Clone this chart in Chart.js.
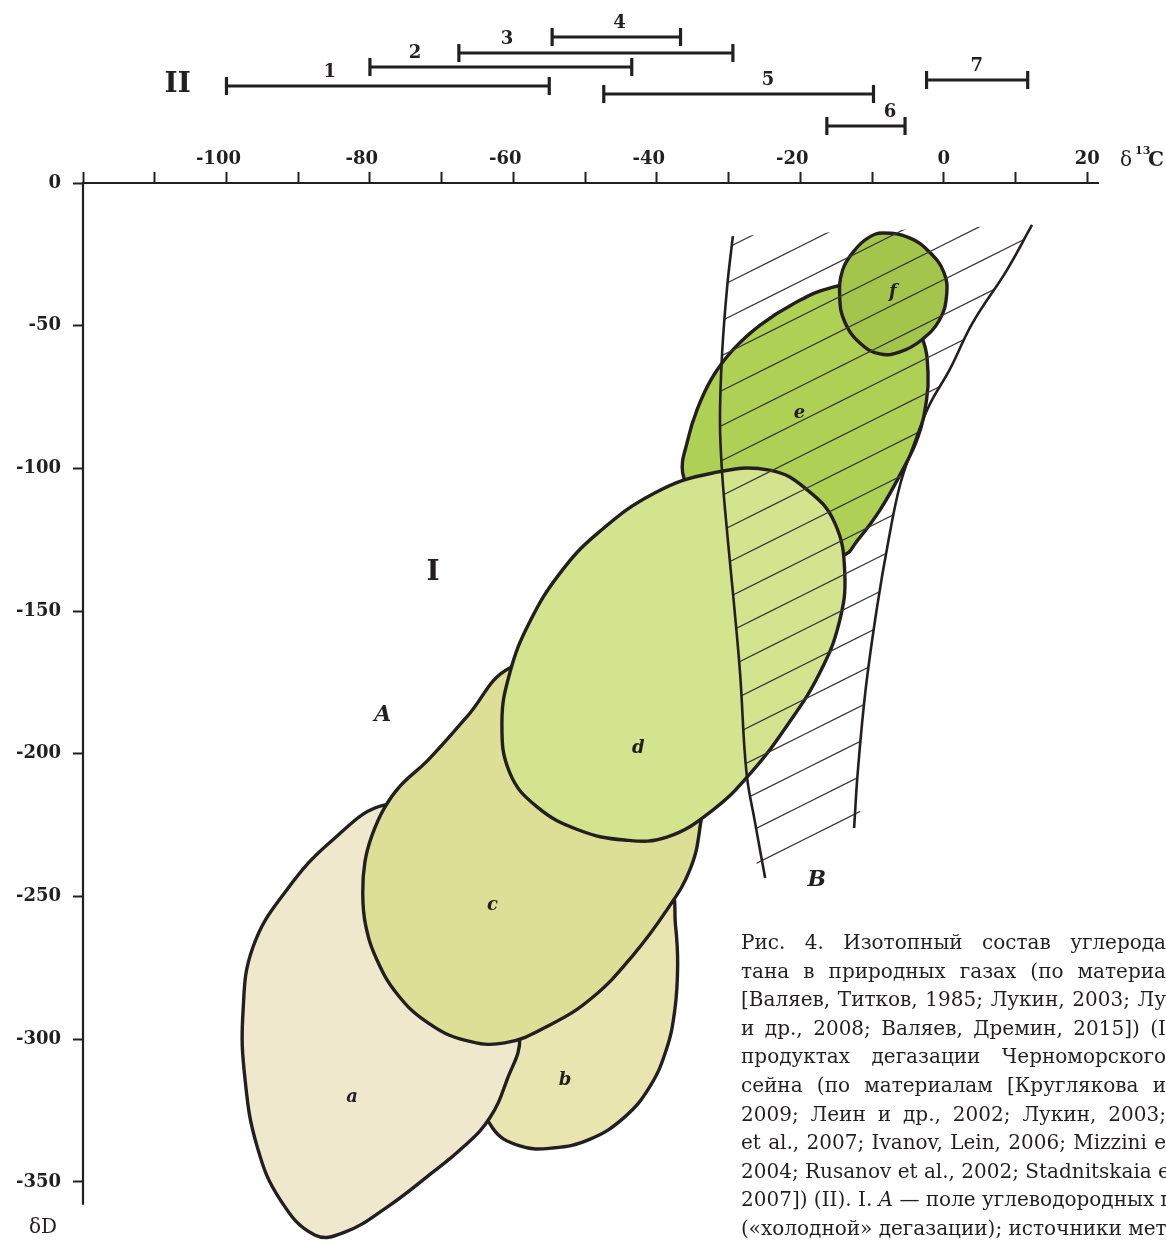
<!DOCTYPE html>
<html lang="ru">
<head>
<meta charset="utf-8">
<title>Изотопный состав углерода и водорода метана</title>
<script src="https://cdn.jsdelivr.net/npm/chart.js@4/dist/chart.umd.min.js"></script>
<style>
  html, body { margin:0; padding:0; background:#ffffff; overflow:hidden; }
  #stage { position:relative; width:1166px; height:1245px; overflow:hidden; background:#ffffff; }
  #stage canvas { position:absolute; left:0; top:0; }
  #caption { position:absolute; left:741px; top:928px; width:425px;
             font-family:"DejaVu Serif","Liberation Serif",serif; font-size:20px;
             line-height:28.6px; color:#231f20; }
  #caption div { white-space:nowrap; text-align:justify; text-align-last:justify; }
</style>
</head>
<body>
<div id="stage">
  <canvas id="fieldsChart" width="1166" height="1245"></canvas>
  <canvas id="rangesChart" width="1166" height="150"></canvas>
  <div id="caption">
    <div>Рис. 4. Изотопный состав углерода</div>
    <div>тана в природных газах (по материа</div>
    <div>[Валяев, Титков, 1985; Лукин, 2003; Лу</div>
    <div>и др., 2008; Валяев, Дремин, 2015]) (I</div>
    <div>продуктах дегазации Черноморского</div>
    <div>сейна (по материалам [Круглякова и</div>
    <div>2009; Леин и др., 2002; Лукин, 2003;</div>
    <div>et al., 2007; Ivanov, Lein, 2006; Mizzini e</div>
    <div>2004; Rusanov et al., 2002; Stadnitskaia e</div>
    <div>2007]) (II). I. <i>A</i> — поле углеводородных г</div>
    <div>(«холодной» дегазации); источники мет</div>
  </div>
</div>
<script>
// ================= DATA =================
// axis ticks
const xTickValues = [-120,-110,-100,-90,-80,-70,-60,-50,-40,-30,-20,-10,0,10,20];
const xTickLabels = [-100,-80,-60,-40,-20,0,20];
const yTickValues = [0,-50,-100,-150,-200,-250,-300,-350];

// Part II: δ13C ranges of methane sources 1–7
const rangeNames = ['1','2','3','4','5','6','7'];
const rangeFrom  = [-100, -80, -67.6, -54.6, -47.4, -16.3, -2.4];
const rangeTo    = [-55, -43.5, -29.4, -36.7, -9.8, -5.4, 11.7];

// Part I: outlines of fields, points [δ13C, δD]
const fieldA = [[-77.9,-217.9],[-85.2,-230.2],[-91.6,-247.7],[-96.3,-267.7],[-97.7,-290.8],[-97.4,-314.3],
  [-95.7,-337.8],[-92.5,-356.3],[-87.7,-368.6],[-83.5,-367.6],[-77.6,-358.8],[-72.1,-348.3],[-67.0,-337.8],
  [-63.3,-327.6],[-60.9,-314.3],[-59.1,-299.2],[-61.2,-272.3],[-67.5,-240.7],[-73.0,-223.2]];
const fieldB = [[-38.2,-247.7],[-37.4,-260.0],[-37.1,-274.0],[-37.5,-289.8],[-38.7,-303.8],[-41.0,-316.7],
  [-44.5,-327.3],[-49.3,-335.0],[-54.5,-338.1],[-59.1,-337.4],[-62.9,-331.1],[-64.4,-317.8],[-57.7,-286.3],
  [-48.6,-263.5],[-41.7,-251.2]];
const fieldC = [[-60.5,-169.9],[-66.5,-187.1],[-71.9,-202.2],[-75.8,-211.3],[-78.0,-219.0],[-79.7,-228.5],
  [-80.7,-237.9],[-81.0,-248.8],[-80.6,-260.0],[-79.0,-272.3],[-76.1,-284.5],[-71.9,-294.3],[-66.8,-300.3],
  [-61.2,-301.3],[-54.9,-295.0],[-48.9,-285.2],[-43.3,-270.5],[-38.6,-254.7],[-35.4,-240.7],[-34.0,-226.0],
  [-33.9,-212.7],[-37.9,-195.2],[-46.3,-179.4],[-54.2,-171.3]];
const fieldD = [[-24.3,-100.6],[-19.0,-107.6],[-15.2,-119.1],[-13.8,-136.7],[-14.6,-154.2],[-17.3,-171.7],
  [-21.6,-189.2],[-26.9,-206.7],[-32.2,-219.7],[-38.6,-229.2],[-44.5,-230.2],[-50.9,-226.7],[-56.7,-218.6],
  [-60.5,-206.7],[-61.6,-189.2],[-60.5,-171.7],[-57.8,-154.2],[-53.5,-136.7],[-48.2,-122.6],[-40.3,-108.6],
  [-32.2,-101.6]];
const fieldE = [[-36.4,-101.6],[-35.7,-90.1],[-34.4,-79.5],[-32.3,-68.3],[-29.4,-58.5],[-25.6,-49.8],
  [-21.0,-42.4],[-15.9,-36.8],[-10.3,-35.7],[-5.4,-42.7],[-2.9,-55.0],[-2.2,-66.2],[-2.4,-76.0],[-3.6,-89.0],
  [-5.9,-101.3],[-8.9,-114.6],[-12.0,-125.1],[-14.1,-130.3],[-21.5,-126.8],[-29.8,-114.6],[-34.7,-107.6]];
const fieldF = [[-8.5,-17.5],[-4.7,-19.3],[-2.0,-24.2],[0.0,-31.2],[0.4,-39.2],[-0.6,-48.0],[-3.1,-55.0],
  [-6.1,-59.2],[-8.9,-59.9],[-11.7,-56.1],[-13.8,-48.7],[-14.5,-40.3],[-14.1,-30.5],[-12.4,-23.5],[-10.6,-19.3]];
// field B (hatched zone) boundaries
const zoneBLeft  = [[-29.4,-18.6],[-30.2,-36.4],[-30.9,-59.6],[-31.2,-83.0],[-30.9,-101.6],[-30.1,-125.1],
  [-29.3,-146.1],[-28.4,-171.7],[-27.5,-206.7],[-26.3,-224.2],[-24.9,-243.5]];
const zoneBRight = [[12.3,-14.7],[8.8,-30.5],[4.0,-49.1],[0.8,-65.5],[-2.0,-77.8],[-4.3,-92.5],[-6.1,-105.8],
  [-7.7,-125.1],[-9.3,-148.6],[-10.9,-177.6],[-12.0,-206.7],[-12.5,-226.0]];

// ================= LAYOUT / STYLE =================
const FONT = "'DejaVu Serif','Liberation Serif',serif";
const INK = '#231f20';
const L = {
  xMin: -120, xMax: 21.5, yMin: -372.1, yMax: 0, yAxisEnd: -358,
  plotLeft: 83, plotTop: 183, padRight: 68,
  rangeRowPx: [86, 67, 53, 37, 94, 126, 80],          // vertical placement of bars in part II
  rangeLabelAt: [-85.6, -73.7, -60.9, -45.2, -24.5, -7.5, 4.6],
  partIIMark: [-106.8, 85],
  fieldLabelAt: { a:[-82.5,-320.3], b:[-52.8,-314.3], c:[-62.9,-253.0], d:[-42.6,-198.0], e:[-20.1,-80.6], f:[-7.1,-38.2] },
  markAt: { I:[-71.2,-136.7], A:[-78.2,-186.4], B:[-17.7,-244.2] }
};
const fieldStyles = [ // bottom → top
  { name:'b', data: fieldB, color:'#e9e5b0' },
  { name:'a', data: fieldA, color:'#f0e8cc' },
  { name:'c', data: fieldC, color:'#dedf96' },
  { name:'e', data: fieldE, color:'#add055' },
  { name:'d', data: fieldD, color:'#d3e38e' },
  { name:'f', data: fieldF, color:'#a3c54c' }
];

Chart.defaults.font.family = FONT;
Chart.defaults.color = INK;
Chart.defaults.animation = false;

const pts = arr => arr.map(([x, y]) => ({ x, y }));

function hatchPattern() {
  const W = 70, H = 35, phase = 16.5;
  const c = document.createElement('canvas'); c.width = W; c.height = H;
  const g = c.getContext('2d');
  g.strokeStyle = '#3a3a3a'; g.lineWidth = 1.2;
  for (let k = -2; k <= 3; k++) {
    const y0 = phase + k * H;
    g.beginPath(); g.moveTo(-10, y0 + 5); g.lineTo(W + 10, y0 - (W + 10) / 2); g.stroke();
  }
  return g.createPattern(c, 'repeat');
}

// closes outlines smoothly (as a loop) for datasets flagged "closed"
const closedLoops = {
  id: 'closedLoops',
  afterDatasetUpdate(chart, args) {
    const ds = chart.data.datasets[args.index];
    if (ds.closed && args.meta.dataset) { args.meta.dataset._loop = true; args.meta.dataset._fullLoop = true; }
  }
};

const annotations = {
  id: 'annotations',
  afterDatasetsDraw(chart) {
    const { ctx, scales: { x, y } } = chart;
    ctx.save();
    ctx.fillStyle = INK; ctx.textAlign = 'center'; ctx.textBaseline = 'middle';
    ctx.font = `italic bold 18px ${FONT}`;
    for (const [n, [vx, vy]] of Object.entries(L.fieldLabelAt)) ctx.fillText(n, x.getPixelForValue(vx), y.getPixelForValue(vy));
    ctx.font = `bold 28px ${FONT}`;
    ctx.fillText('I', x.getPixelForValue(L.markAt.I[0]), y.getPixelForValue(L.markAt.I[1]));
    ctx.font = `italic bold 22px ${FONT}`;
    ctx.fillText('A', x.getPixelForValue(L.markAt.A[0]), y.getPixelForValue(L.markAt.A[1]));
    ctx.fillText('B', x.getPixelForValue(L.markAt.B[0]), y.getPixelForValue(L.markAt.B[1]));
    // axis titles
    ctx.font = `20px ${FONT}`;
    ctx.fillText('δD', x.left - 40, y.getPixelForValue(L.yAxisEnd) + 23);
    ctx.textAlign = 'left'; ctx.textBaseline = 'alphabetic';
    const tx = x.right + 22, ty = y.top - 17;
    ctx.font = `20px ${FONT}`; ctx.fillText('δ', tx, ty);
    ctx.font = `bold 11px ${FONT}`; ctx.fillText('13', tx + 15, ty - 12);
    ctx.font = `bold 20px ${FONT}`; ctx.fillText('C', tx + 28, ty);
    ctx.restore();
  }
};

const tickFont = { family: FONT, weight: 'bold', size: 18 };
const fieldDatasets = fieldStyles.map((f, i) => ({
  label: 'Field ' + f.name,
  data: pts(f.data),
  showLine: true, closed: true, fill: 'shape',
  backgroundColor: f.color, borderColor: INK, borderWidth: 3.4,
  borderJoinStyle: 'round', tension: 0.42,
  pointRadius: 0, pointHoverRadius: 0,
  order: 100 - i
}));

new Chart(document.getElementById('fieldsChart'), {
  type: 'scatter',
  data: {
    datasets: [
      ...fieldDatasets,
      { label: 'B hatch', data: pts(zoneBLeft.concat(zoneBRight.slice().reverse())), showLine: true,
        fill: 'shape', backgroundColor: hatchPattern(), borderWidth: 0, tension: 0.4, pointRadius: 0, order: 10 },
      { label: 'B left', data: pts(zoneBLeft), showLine: true, fill: false, borderColor: INK, borderWidth: 2.6,
        tension: 0.4, pointRadius: 0, order: 5 },
      { label: 'B right', data: pts(zoneBRight), showLine: true, fill: false, borderColor: INK, borderWidth: 2.6,
        tension: 0.4, pointRadius: 0, order: 4 },
      { label: 'δD axis', data: [{ x: L.xMin, y: 0 }, { x: L.xMin, y: L.yAxisEnd }], showLine: true, fill: false,
        borderColor: INK, borderWidth: 2.2, pointRadius: 0, clip: false, order: 1 }
    ]
  },
  options: {
    responsive: false, devicePixelRatio: 1, events: [],
    layout: { autoPadding: false, padding: { top: 0, left: 0, right: L.padRight, bottom: 0 } },
    plugins: { legend: { display: false }, tooltip: { enabled: false } },
    scales: {
      x: {
        type: 'linear', position: 'top', min: L.xMin, max: L.xMax,
        afterBuildTicks: s => { s.ticks = xTickValues.map(v => ({ value: v })); },
        afterFit: s => { s.height = L.plotTop; s.paddingLeft = 0; s.paddingRight = 0; },
        ticks: { autoSkip: false, maxRotation: 0, minRotation: 0, padding: 2, font: tickFont, color: INK,
          callback: v => xTickLabels.includes(v) ? (v < 0 ? String(v) + '\u2007\u2009' : String(v)) : '' },
        grid: { drawOnChartArea: false, drawTicks: true, tickLength: 11, tickWidth: 2, tickColor: INK },
        border: { display: true, color: INK, width: 2 }
      },
      y: {
        type: 'linear', position: 'left', min: L.yMin, max: L.yMax,
        afterBuildTicks: s => { s.ticks = yTickValues.map(v => ({ value: v })); },
        afterFit: s => { s.width = L.plotLeft; s.paddingTop = 0; s.paddingBottom = 0; },
        ticks: { autoSkip: false, padding: 12, font: tickFont, color: INK, callback: v => String(v) },
        grid: { drawOnChartArea: false, drawTicks: true, tickLength: 10, tickWidth: 2, tickColor: INK },
        border: { display: false }
      }
    }
  },
  plugins: [closedLoops, annotations]
});

// ---------- Part II: ranges ----------
const rangeLabels = {
  id: 'rangeLabels',
  afterDatasetsDraw(chart) {
    const { ctx, scales: { x, y } } = chart;
    ctx.save();
    ctx.fillStyle = INK; ctx.textAlign = 'center'; ctx.textBaseline = 'middle';
    ctx.font = `bold 18px ${FONT}`;
    rangeNames.forEach((n, i) => ctx.fillText(n, x.getPixelForValue(L.rangeLabelAt[i]), y.getPixelForValue(L.rangeRowPx[i]) - 14));
    ctx.font = `bold 28px ${FONT}`;
    ctx.fillText('II', x.getPixelForValue(L.partIIMark[0]), y.getPixelForValue(L.partIIMark[1]));
    ctx.restore();
  }
};

new Chart(document.getElementById('rangesChart'), {
  type: 'scatter',
  data: {
    datasets: rangeNames.map((n, i) => ({
      label: 'Range ' + n,
      data: [{ x: rangeFrom[i], y: L.rangeRowPx[i] }, { x: rangeTo[i], y: L.rangeRowPx[i] }],
      showLine: true, borderColor: INK, borderWidth: 3.2,
      pointStyle: 'line', pointRotation: 90, pointRadius: 9, pointBorderWidth: 3.2,
      pointBorderColor: INK, pointBackgroundColor: INK, clip: false
    }))
  },
  options: {
    responsive: false, devicePixelRatio: 1, events: [],
    layout: { autoPadding: false, padding: { top: 0, left: L.plotLeft, right: L.padRight, bottom: 0 } },
    plugins: { legend: { display: false }, tooltip: { enabled: false } },
    scales: {
      x: { type: 'linear', min: L.xMin, max: L.xMax, display: false },
      y: { type: 'linear', min: 0, max: 150, reverse: true, display: false }
    }
  },
  plugins: [rangeLabels]
});
</script>
</body>
</html>
